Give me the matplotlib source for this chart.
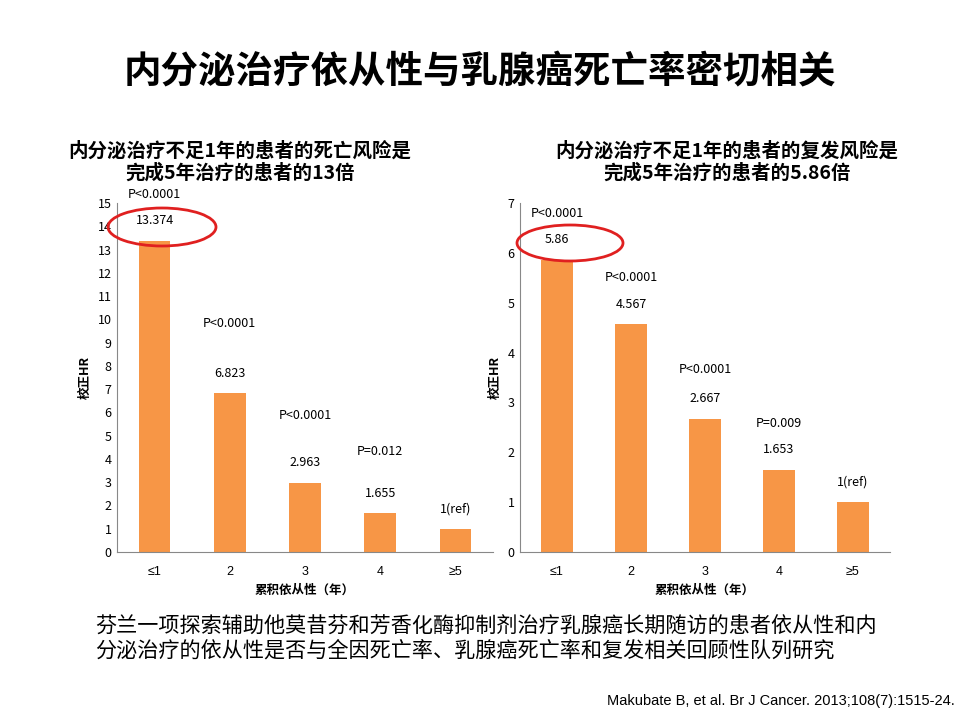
import matplotlib
matplotlib.use("Agg")
import matplotlib.pyplot as plt
from matplotlib.patches import Ellipse

plt.rcParams['font.family'] = ['Noto Sans CJK SC', 'DejaVu Sans']

cats = ['≤1', '2', '3', '4', '≥5']
death_hr = [13.374, 6.823, 2.963, 1.655, 1.0]
death_lbl = ['13.374', '6.823', '2.963', '1.655', '1(ref)']
death_p = ['P<0.0001', 'P<0.0001', 'P<0.0001', 'P=0.012', '']
rec_hr = [5.86, 4.567, 2.667, 1.653, 1.0]
rec_lbl = ['5.86', '4.567', '2.667', '1.653', '1(ref)']
rec_p = ['P<0.0001', 'P<0.0001', 'P<0.0001', 'P=0.009', '']

W, H = 960, 720
fig = plt.figure(figsize=(9.6, 7.2), dpi=100)
orange = '#F79646'

def fx(x): return x / W
def fy(y): return 1 - y / H

def panel(rect, vals, lbls, ps, ymax, poff):
    ax = fig.add_axes(rect)
    x = range(len(cats))
    ax.bar(x, vals, width=0.42, color=orange)
    ax.set_xlim(-0.5, len(cats) - 0.5)
    ax.set_ylim(0, ymax)
    ax.set_yticks(range(0, ymax + 1))
    ax.set_xticks(list(x))
    ax.set_xticklabels(cats, family=['Liberation Sans', 'DejaVu Sans'])
    ax.tick_params(labelsize=9, length=0, pad=10)
    ax.tick_params(axis='y', pad=4)
    for s in ['top', 'right']:
        ax.spines[s].set_visible(False)
    for s in ['left', 'bottom']:
        ax.spines[s].set_color('#888888')
    for i, (v, l, p) in enumerate(zip(vals, lbls, ps)):
        ax.annotate(l, (i, v), xytext=(0, 12), textcoords='offset points',
                    ha='center', fontsize=9)
        if p:
            ax.annotate(p, (i, v), xytext=(0, poff[i]), textcoords='offset points',
                        ha='center', fontsize=9)
    ax.set_ylabel('校正HR', fontsize=9, fontweight='bold')
    ax.set_xlabel('累积依从性（年）', fontsize=9, fontweight='bold')
    return ax

panel([fx(117), fy(552), fx(493 - 117), (552 - 203) / H], death_hr, death_lbl, death_p, 15,
      [31, 48, 46, 42, 0])
panel([fx(520), fy(552), fx(890 - 520), (552 - 203) / H], rec_hr, rec_lbl, rec_p, 7,
      [31, 31, 33, 31, 0])

fig.text(0.5, fy(72), '内分泌治疗依从性与乳腺癌死亡率密切相关', ha='center', va='center',
         fontsize=27, fontweight='bold')
fig.text(fx(240), fy(162), '内分泌治疗不足1年的患者的死亡风险是\n完成5年治疗的患者的13倍',
         ha='center', va='center', fontsize=14, fontweight='bold', linespacing=1.2)
fig.text(fx(727), fy(162), '内分泌治疗不足1年的患者的复发风险是\n完成5年治疗的患者的5.86倍',
         ha='center', va='center', fontsize=14, fontweight='bold', linespacing=1.2)
fig.text(fx(95), fy(638), '芬兰一项探索辅助他莫昔芬和芳香化酶抑制剂治疗乳腺癌长期随访的患者依从性和内\n分泌治疗的依从性是否与全因死亡率、乳腺癌死亡率和复发相关回顾性队列研究',
         ha='left', va='center', fontsize=15.2, linespacing=1.2)
fig.text(fx(955), fy(701), 'Makubate B, et al. Br J Cancer. 2013;108(7):1515-24.',
         ha='right', va='center', fontsize=10.5, family=['Liberation Sans', 'DejaVu Sans'])

for (cx, cy, w, h) in [(162, 227, 108, 38), (570, 243, 106, 36)]:
    fig.add_artist(Ellipse((fx(cx), fy(cy)), w / W, h / H, transform=fig.transFigure,
                           fill=False, edgecolor='#E02020', linewidth=2))

fig.savefig('out.png', dpi=100)
